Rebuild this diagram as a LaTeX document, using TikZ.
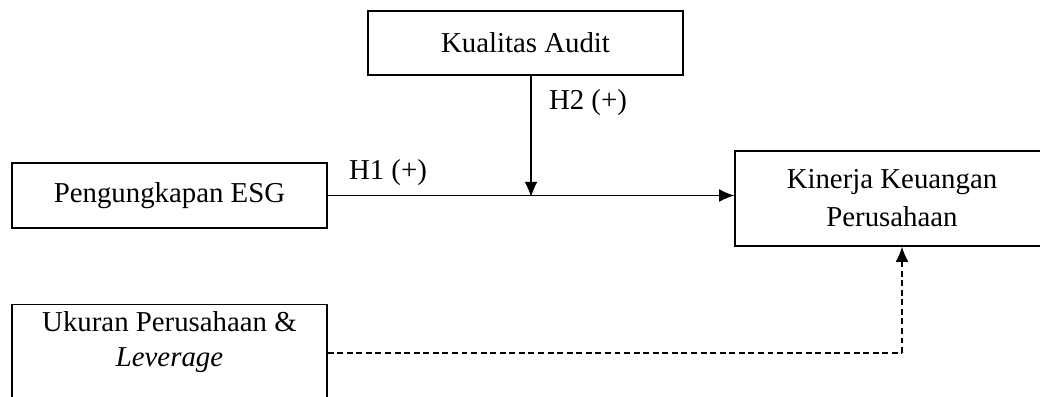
\documentclass[tikz,border=0pt]{standalone}
\usepackage{fontspec}
\setmainfont{Liberation Serif}
\usetikzlibrary{positioning,calc,arrows.meta}

\tikzset{
    varbox/.style={draw, line width=0.9pt, shape=rectangle, align=center, inner xsep=0pt,
        font=\fontsize{20.5}{27}\selectfont},
    lbl/.style={font=\fontsize{20.5}{27}\selectfont, inner sep=0pt},
    tip/.style={-{Latex[length=3.8mm, width=3.2mm]}},
    dashline/.style={line width=0.9pt, dash pattern=on 4.2pt off 2.6pt}
}

\begin{document}
\begin{tikzpicture}[x=0.025cm, y=-0.025cm]
    \useasboundingbox (0,0) rectangle (1040,396);
    \begin{scope}
    \clip (0,0) rectangle (1040,396);
    \node[varbox, style={minimum width=7.875cm, minimum height=1.6cm}] (audit) at (525.5,43) {Kualitas Audit};
    \node[varbox, style={minimum width=7.875cm, minimum height=1.625cm}] (esg) at (169.5,195.5) {Pengungkapan ESG};
    \node[varbox, style={minimum width=7.85cm, minimum height=2.375cm}] (kinerja) at (892,198.5) {Kinerja Keuangan\\Perusahaan};
    \node[varbox, anchor=north, inner ysep=5pt, text depth=1.6cm, style={minimum width=7.875cm}] (ukuran) at (169.5,304) {Ukuran Perusahaan \&\\[-2.5pt]\textit{Leverage}};
    \coordinate (hit) at (531,197);
    \coordinate (bend) at (902,353);
    \draw[line width=0.9pt, tip] (esg.east) -- (esg.east -| kinerja.west);
    \draw[line width=0.9pt, tip] (audit.south -| hit) -- (hit);
    \draw[dashline] (ukuran.east |- bend) -- (bend);
    \draw[dashline, tip] (bend) -- (bend |- kinerja.south);
    \node[lbl] (h1) at (388,173) {H1 (+)};
    \node[lbl] (h2) at (588,103) {H2 (+)};
    \end{scope}
\end{tikzpicture}
\end{document}
